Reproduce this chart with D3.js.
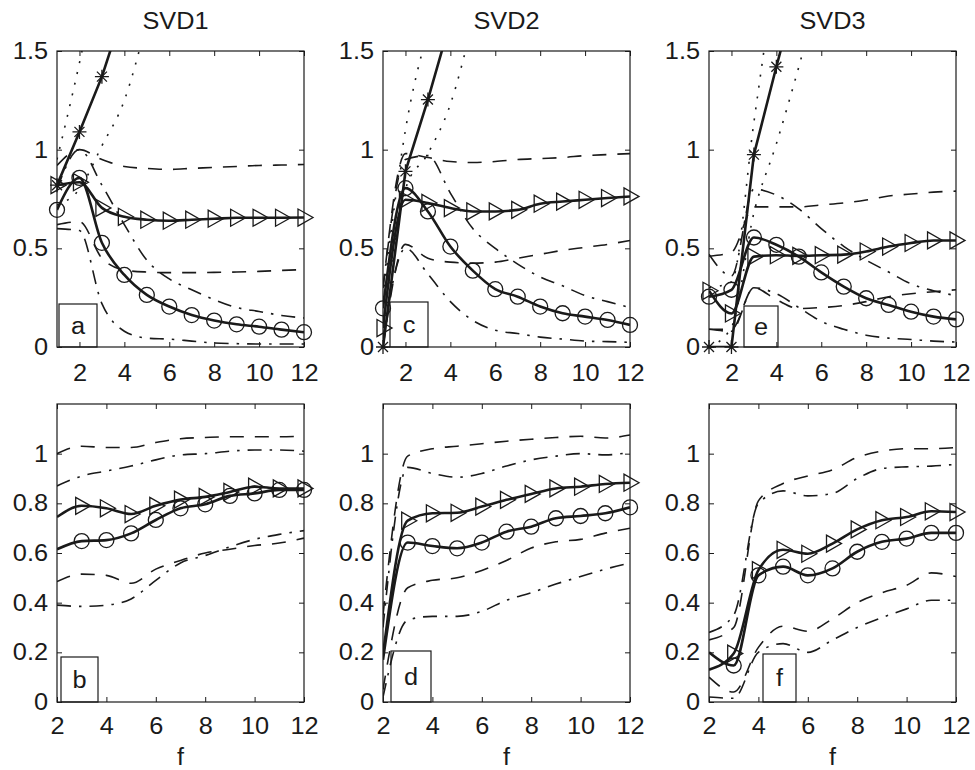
<!DOCTYPE html>
<html><head><meta charset="utf-8">
<script src="https://cdn.jsdelivr.net/npm/d3@7/dist/d3.min.js"></script>
<style>
body{margin:0;background:#fff}
svg{display:block}
text{font-family:"Liberation Sans",Arial,Helvetica,sans-serif;fill:#1a1a1a}
</style>
</head><body>
<svg id="chart" width="975" height="770"></svg>
<script>
// ---------- data ----------
const titles = ["SVD1", "SVD2", "SVD3"];
const letters = ["a", "b", "c", "d", "e", "f"];
const fTop = [1, 2, 3, 4, 5, 6, 7, 8, 9, 10, 11, 12];
const fBottom = [2, 3, 4, 5, 6, 7, 8, 9, 10, 11, 12];
const xTicks = [2, 4, 6, 8, 10, 12];
const yTicksTop = [0, 0.5, 1, 1.5];
const yTicksBottom = [0, 0.2, 0.4, 0.6, 0.8, 1];
const xLabel = "f";

// panel a (SVD1, top)
const a_star   = [0.82, 1.09, 1.37, 1.72];
const a_dotHi  = [0.95, 1.44, 2.0];
const a_dotLo  = [0.72, 0.80, 1.02, 1.25, 1.65];
const a_tri    = [0.82, 0.835, 0.705, 0.66, 0.645, 0.64, 0.645, 0.65, 0.655, 0.655, 0.655, 0.656];
const a_triHi  = [0.92, 1.0, 0.95, 0.915, 0.905, 0.90, 0.905, 0.91, 0.915, 0.92, 0.922, 0.925];
const a_triLo  = [0.62, 0.635, 0.45, 0.39, 0.38, 0.377, 0.377, 0.378, 0.38, 0.383, 0.388, 0.392];
const a_circ   = [0.695, 0.857, 0.528, 0.365, 0.264, 0.205, 0.162, 0.134, 0.115, 0.103, 0.088, 0.075];
const a_circHi = [0.80, 1.0, 0.82, 0.62, 0.44, 0.345, 0.29, 0.24, 0.20, 0.18, 0.16, 0.147];
const a_circLo = [0.60, 0.59, 0.22, 0.08, 0.045, 0.04, 0.03, 0.02, 0.017, 0.015, 0.015, 0.015];

// panel c (SVD2, top)
const c_star   = [0, 0.89, 1.254, 1.65];
const c_dotHi  = [0.25, 1.10, 1.60];
const c_dotLo  = [0.10, 0.80, 0.98, 1.23, 1.65];
const c_tri    = [0.096, 0.746, 0.73, 0.704, 0.687, 0.687, 0.695, 0.726, 0.737, 0.746, 0.755, 0.763];
const c_triHi  = [0.30, 0.98, 0.96, 0.94, 0.935, 0.94, 0.95, 0.955, 0.96, 0.97, 0.975, 0.98];
const c_triLo  = [0.0, 0.52, 0.45, 0.43, 0.425, 0.43, 0.45, 0.47, 0.49, 0.505, 0.52, 0.54];
const c_circ   = [0.196, 0.805, 0.687, 0.509, 0.387, 0.293, 0.255, 0.205, 0.171, 0.154, 0.137, 0.112];
const c_circHi = [0.30, 0.95, 0.97, 0.78, 0.60, 0.50, 0.42, 0.355, 0.31, 0.26, 0.23, 0.20];
const c_circLo = [0.05, 0.50, 0.37, 0.23, 0.135, 0.085, 0.068, 0.05, 0.04, 0.03, 0.027, 0.024];

// panel e (SVD3, top)
const e_star   = [0, 0, 0.975, 1.42, 1.85];
const e_dotHi  = [0.30, 0.33, 1.14, 1.95];
const e_dotLo  = [0, 0.10, 0.68, 1.03, 1.42, 1.85];
const e_tri    = [0.285, 0.17, 0.458, 0.465, 0.462, 0.465, 0.468, 0.484, 0.509, 0.527, 0.54, 0.54];
const e_triHi  = [0.46, 0.48, 0.71, 0.71, 0.71, 0.72, 0.73, 0.745, 0.765, 0.775, 0.785, 0.79];
const e_triLo  = [0.09, 0.09, 0.30, 0.24, 0.195, 0.20, 0.21, 0.23, 0.255, 0.27, 0.28, 0.29];
const e_circ   = [0.255, 0.29, 0.555, 0.518, 0.458, 0.378, 0.306, 0.247, 0.213, 0.179, 0.154, 0.14];
const e_circHi = [0.47, 0.36, 0.80, 0.77, 0.70, 0.60, 0.51, 0.44, 0.38, 0.32, 0.285, 0.26];
const e_circLo = [0.09, 0.08, 0.30, 0.27, 0.20, 0.13, 0.09, 0.06, 0.045, 0.038, 0.03, 0.025];

// panel b (SVD1, bottom)
const b_tri    = [0.745, 0.79, 0.78, 0.757, 0.79, 0.815, 0.826, 0.846, 0.867, 0.86, 0.86];
const b_triHi  = [1.0, 1.03, 1.025, 1.025, 1.045, 1.06, 1.065, 1.068, 1.068, 1.068, 1.07];
const b_triLo  = [0.485, 0.515, 0.51, 0.478, 0.535, 0.57, 0.60, 0.615, 0.63, 0.64, 0.66];
const b_circ   = [0.615, 0.648, 0.652, 0.679, 0.733, 0.78, 0.796, 0.83, 0.84, 0.854, 0.854];
const b_circHi = [0.87, 0.91, 0.93, 0.95, 0.975, 0.995, 1.0, 1.01, 1.015, 1.015, 1.01];
const b_circLo = [0.39, 0.385, 0.39, 0.415, 0.49, 0.56, 0.59, 0.625, 0.655, 0.675, 0.69];

// panel d (SVD2, bottom)
const d_tri    = [0.19, 0.73, 0.76, 0.762, 0.787, 0.814, 0.838, 0.86, 0.867, 0.878, 0.883];
const d_triHi  = [0.35, 0.99, 1.02, 1.03, 1.04, 1.05, 1.058, 1.065, 1.07, 1.063, 1.075];
const d_triLo  = [0.05, 0.46, 0.49, 0.50, 0.53, 0.57, 0.62, 0.645, 0.655, 0.68, 0.70];
const d_circ   = [0.17, 0.642, 0.628, 0.619, 0.642, 0.686, 0.706, 0.74, 0.749, 0.76, 0.784];
const d_circHi = [0.30, 0.945, 0.92, 0.905, 0.92, 0.95, 0.975, 0.99, 1.0, 0.995, 1.005];
const d_circLo = [0.02, 0.33, 0.345, 0.345, 0.365, 0.41, 0.44, 0.475, 0.505, 0.535, 0.56];

// panel f (SVD3, bottom)
const f_tri    = [0.13, 0.195, 0.531, 0.613, 0.597, 0.638, 0.695, 0.732, 0.745, 0.768, 0.765];
const f_triHi  = [0.25, 0.30, 0.81, 0.88, 0.91, 0.935, 0.985, 1.01, 1.02, 1.02, 1.025];
const f_triLo  = [0.10, 0.04, 0.22, 0.305, 0.285, 0.335, 0.40, 0.44, 0.47, 0.52, 0.505];
const f_circ   = [0.20, 0.147, 0.51, 0.545, 0.51, 0.538, 0.605, 0.645, 0.658, 0.681, 0.681];
const f_circHi = [0.28, 0.35, 0.80, 0.85, 0.83, 0.84, 0.90, 0.94, 0.947, 0.95, 0.957];
const f_circLo = [0.02, 0.015, 0.20, 0.235, 0.20, 0.25, 0.30, 0.34, 0.375, 0.41, 0.41];

// ---------- layout ----------
const colLeft = [57, 383, 709];
const panelW = 247;
const rowTop = [51, 404];
const rowH = [296, 298];
const labelPad = [18, 16];
// letter boxes: [dx from left axis, width, height]
const boxes = {a:[2,38,43], c:[7,38,45], e:[35,34,41], b:[4,37,45], d:[8,40,51], f:[54,33,48]};

const panels = [
  {col:0,row:0,letter:"a",xs:fTop,yMax:1.5,yTicks:yTicksTop,star:a_star,dotHi:a_dotHi,dotLo:a_dotLo,tri:a_tri,triHi:a_triHi,triLo:a_triLo,circ:a_circ,circHi:a_circHi,circLo:a_circLo,markFrom:1},
  {col:1,row:0,letter:"c",xs:fTop,yMax:1.5,yTicks:yTicksTop,star:c_star,dotHi:c_dotHi,dotLo:c_dotLo,tri:c_tri,triHi:c_triHi,triLo:c_triLo,circ:c_circ,circHi:c_circHi,circLo:c_circLo,markFrom:1},
  {col:2,row:0,letter:"e",xs:fTop,yMax:1.5,yTicks:yTicksTop,star:e_star,dotHi:e_dotHi,dotLo:e_dotLo,tri:e_tri,triHi:e_triHi,triLo:e_triLo,circ:e_circ,circHi:e_circHi,circLo:e_circLo,markFrom:1},
  {col:0,row:1,letter:"b",xs:fBottom,yMax:1.2,yTicks:yTicksBottom,tri:b_tri,triHi:b_triHi,triLo:b_triLo,circ:b_circ,circHi:b_circHi,circLo:b_circLo,markFrom:3},
  {col:1,row:1,letter:"d",xs:fBottom,yMax:1.2,yTicks:yTicksBottom,tri:d_tri,triHi:d_triHi,triLo:d_triLo,circ:d_circ,circHi:d_circHi,circLo:d_circLo,markFrom:3},
  {col:2,row:1,letter:"f",xs:fBottom,yMax:1.2,yTicks:yTicksBottom,tri:f_tri,triHi:f_triHi,triLo:f_triLo,circ:f_circ,circHi:f_circHi,circLo:f_circLo,markFrom:3}
];

const INK = "#1a1a1a";
const FS = 23;
const svg = d3.select("#chart");

// titles
titles.forEach((t, i) => {
  svg.append("text").attr("x", colLeft[i] + panelW / 2 - (i === 0 ? 5 : 0)).attr("y", 29)
    .attr("text-anchor", "middle").attr("font-size", FS).text(t);
});

const triPath = "M-6,-8.5L-6,8.5L9,0Z";
const starPath = "M0,-7L0,7M-7,0L7,0M-5,-5L5,5M-5,5L5,-5";

panels.forEach((p, pi) => {
  const w = panelW, h = rowH[p.row];
  const g = svg.append("g").attr("transform", `translate(${colLeft[p.col]},${rowTop[p.row]})`);
  const x = d3.scaleLinear().domain([p.xs[0], p.xs[p.xs.length - 1]]).range([0, w]);
  const y = d3.scaleLinear().domain([0, p.yMax]).range([h, 0]);

  const clipId = "clip" + pi;
  g.append("clipPath").attr("id", clipId).append("rect").attr("width", w).attr("height", h);

  // axes (ticks inward, MATLAB box style)
  const fmt = d => String(d);
  const ax = [
    g.append("g").attr("transform", `translate(0,${h})`).call(d3.axisBottom(x).tickValues(xTicks).tickSizeInner(-5).tickSizeOuter(0).tickPadding(labelPad[p.row]).tickFormat(fmt)),
    g.append("g").call(d3.axisTop(x).tickValues(xTicks).tickSizeInner(-5).tickSizeOuter(0).tickFormat("")),
    g.append("g").call(d3.axisLeft(y).tickValues(p.yTicks).tickSizeInner(-5).tickSizeOuter(0).tickPadding(9).tickFormat(fmt)),
    g.append("g").attr("transform", `translate(${w},0)`).call(d3.axisRight(y).tickValues(p.yTicks).tickSizeInner(-5).tickSizeOuter(0).tickFormat(""))
  ];
  ax.forEach(a => {
    a.select(".domain").remove();
    a.selectAll("line").attr("stroke", INK).attr("stroke-width", 1);
    a.selectAll("text").attr("font-size", FS).attr("fill", INK)
      .attr("font-family", '"Liberation Sans",Arial,Helvetica,sans-serif');
  });

  const plot = g.append("g").attr("clip-path", `url(#${clipId})`);
  const mk = (vals, curve) => d3.line()
    .x((d, i) => x(p.xs[i])).y(d => y(d)).curve(curve)(vals);

  const thin = [
    ["dotHi", "2,9"], ["dotLo", "2,9"],
    ["triHi", "14,11"], ["triLo", "14,11"],
    ["circHi", "14,8,2.5,8"], ["circLo", "14,8,2.5,8"]
  ];
  thin.forEach(([k, dash]) => {
    if (!p[k]) return;
    plot.append("path").attr("d", mk(p[k], d3.curveMonotoneX))
      .attr("fill", "none").attr("stroke", INK).attr("stroke-width", 1.6)
      .attr("stroke-dasharray", dash);
  });
  if (p.star) {
    plot.append("path").attr("d", mk(p.star, d3.curveLinear))
      .attr("fill", "none").attr("stroke", INK).attr("stroke-width", 2.6);
  }
  ["tri", "circ"].forEach(k => {
    plot.append("path").attr("d", mk(p[k], d3.curveMonotoneX))
      .attr("fill", "none").attr("stroke", INK).attr("stroke-width", 2.6)
      .attr("stroke-linejoin", "round");
  });

  // markers (not clipped, like the original)
  const pts = (vals) => vals.map((v, i) => ({fx: p.xs[i], v}))
    .filter(d => d.fx >= p.markFrom && d.v <= p.yMax);
  const mg = g.append("g").attr("fill", "none").attr("stroke", INK).attr("stroke-width", 1.3);
  mg.selectAll(".tm").data(pts(p.tri)).join("path")
    .attr("d", triPath).attr("transform", d => `translate(${x(d.fx)},${y(d.v)})`);
  mg.selectAll(".cm").data(pts(p.circ)).join("circle")
    .attr("cx", d => x(d.fx)).attr("cy", d => y(d.v)).attr("r", 7.5);
  if (p.star) {
    mg.selectAll(".sm").data(pts(p.star)).join("path")
      .attr("d", starPath).attr("transform", d => `translate(${x(d.fx)},${y(d.v)})`);
  }

  // frame
  g.append("rect").attr("width", w).attr("height", h)
    .attr("fill", "none").attr("stroke", INK).attr("stroke-width", 1.2);

  // letter box
  const bx = boxes[p.letter];
  g.append("rect").attr("x", bx[0]).attr("y", h - bx[2]).attr("width", bx[1]).attr("height", bx[2])
    .attr("fill", "none").attr("stroke", INK).attr("stroke-width", 1.2);
  g.append("text").attr("x", bx[0] + bx[1] / 2).attr("y", h - bx[2] / 2 + 8)
    .attr("text-anchor", "middle").attr("font-size", FS).text(p.letter);

  if (p.row === 1) {
    g.append("text").attr("x", w / 2).attr("y", h + 63)
      .attr("text-anchor", "middle").attr("font-size", FS).text(xLabel);
  }
});

// widen glyphs slightly to match the original's wider sans face
svg.selectAll("text").each(function () {
  const L = this.getComputedTextLength();
  if (L > 0) {
    this.setAttribute("textLength", (L * 1.1).toFixed(1));
    this.setAttribute("lengthAdjust", "spacingAndGlyphs");
  }
});
</script>
</body></html>
